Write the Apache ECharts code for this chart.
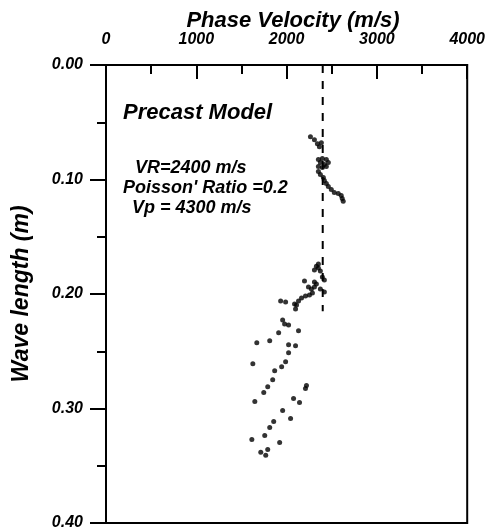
<!DOCTYPE html>
<html><head><meta charset="utf-8">
<script src="https://cdn.jsdelivr.net/npm/echarts@6/dist/echarts.min.js"></script>
<style>html,body{margin:0;padding:0;background:#fff}#c{width:488px;height:531px}</style>
</head><body><div id="c"></div>
<script>
// Phase velocity (m/s)
var velocity = [2264,2308,2341,2363,2385,
2352,2396,2440,2462,2374,2418,2352,2396,2440,2352,2374,2407,2418,2440,2462,2495,2528,2572,2605,2616,2627,
2352,2330,2352,2308,2374,2396,2418,2198,2308,2330,2242,2275,2308,2374,2418,2286,2253,2209,2165,2132,2110,
1934,1989,2088,2099,1956,1978,2022,1912,2132,1813,1670,2022,2099,2022,1626,1989,1945,1868,1846,1791,1747,1648,
2220,2209,2077,2143,1956,2044,1857,1813,1758,1615,1923,1791,1714,1769];
// Wave length (m)
var wavelength = [0.0626,0.0652,0.0687,0.0713,0.0678,
0.0826,0.0817,0.0826,0.0852,0.0852,0.0870,0.0887,0.0896,0.0887,0.0930,0.0957,0.0983,0.1009,0.1035,0.1061,0.1087,0.1113,0.1122,0.1139,0.1165,0.1191,
0.1739,0.1757,0.1774,0.1791,0.1800,0.1852,0.1878,0.1887,0.1896,0.1913,0.1939,0.1957,0.1939,0.1957,0.1983,0.1991,0.2009,0.2017,0.2035,0.2061,0.2096,
0.2061,0.2070,0.2087,0.2130,0.2226,0.2261,0.2270,0.2339,0.2322,0.2409,0.2426,0.2443,0.2452,0.2513,0.2609,0.2591,0.2635,0.2670,0.2748,0.2809,0.2861,0.2939,
0.2800,0.2826,0.2913,0.2948,0.3017,0.3087,0.3113,0.3165,0.3235,0.3270,0.3296,0.3357,0.3383,0.3409];
// Reference line: Rayleigh velocity VR
var vrLineX = [2400, 2400];
var vrLineY = [0, 0.215];
var xTicks = [0, 1000, 2000, 3000, 4000];
var yTicks = ['0.00','0.10','0.20','0.30','0.40'];
var annotations = ['Precast Model', 'VR=2400 m/s', "Poisson' Ratio =0.2", 'Vp = 4300 m/s'];

var pts = velocity.map(function(v,i){return [v, wavelength[i]];});
var vr = vrLineX.map(function(v,i){return [v, vrLineY[i]];});
var font = '"Liberation Sans", Arial, sans-serif';
var chart = echarts.init(document.getElementById('c'));
chart.setOption({
  animation:false,
  grid:{left:106,right:19,top:65,bottom:6,show:true,borderColor:'#000',borderWidth:2,backgroundColor:'transparent'},
  title:{text:'Phase Velocity (m/s)',left:288,top:5,textAlign:'center',textStyle:{fontFamily:font,fontSize:22,fontWeight:'bold',fontStyle:'italic',color:'#000'}},
  xAxis:{type:'value',position:'top',min:0,max:4000,interval:1000,
    axisLine:{lineStyle:{color:'#000',width:2}},
    axisTick:{inside:true,length:14,lineStyle:{color:'#000',width:2}},
    minorTick:{show:true,splitNumber:2,length:9,lineStyle:{color:'#000',width:2}},
    splitLine:{show:false},
    axisLabel:{margin:17,fontFamily:font,fontSize:16,fontWeight:'bold',fontStyle:'italic',color:'#000',
      formatter:function(v){return xTicks.indexOf(v)>=0?String(v):'';}}},
  yAxis:{type:'value',inverse:true,min:0,max:0.4,interval:0.1,
    name:'Wave length (m)',nameLocation:'middle',nameGap:73,nameRotate:90,
    nameTextStyle:{fontFamily:font,fontSize:23,fontWeight:'bold',fontStyle:'italic',color:'#000'},
    axisLine:{lineStyle:{color:'#000',width:2}},
    axisTick:{length:16,lineStyle:{color:'#000',width:2}},
    minorTick:{show:true,splitNumber:2,length:9,lineStyle:{color:'#000',width:2}},
    splitLine:{show:false},
    axisLabel:{margin:23,fontFamily:font,fontSize:16,fontWeight:'bold',fontStyle:'italic',color:'#000',
      formatter:function(v){return yTicks[Math.round(v*10)];}}},
  series:[
    {type:'line',data:vr,symbol:'none',lineStyle:{color:'#000',width:2,type:[8,8]},silent:true},
    {type:'scatter',data:pts,symbolSize:5,itemStyle:{color:'#000'}}
  ],
  graphic:[
    {type:'text',left:123,top:102,style:{text:annotations[0],font:'italic bold 22px '+font,fill:'#000'}},
    {type:'text',left:135,top:159,style:{text:annotations[1],font:'italic bold 18px '+font,fill:'#000'}},
    {type:'text',left:123,top:179,style:{text:annotations[2],font:'italic bold 18px '+font,fill:'#000'}},
    {type:'text',left:132,top:199,style:{text:annotations[3],font:'italic bold 18px '+font,fill:'#000'}}
  ]
});
</script></body></html>
